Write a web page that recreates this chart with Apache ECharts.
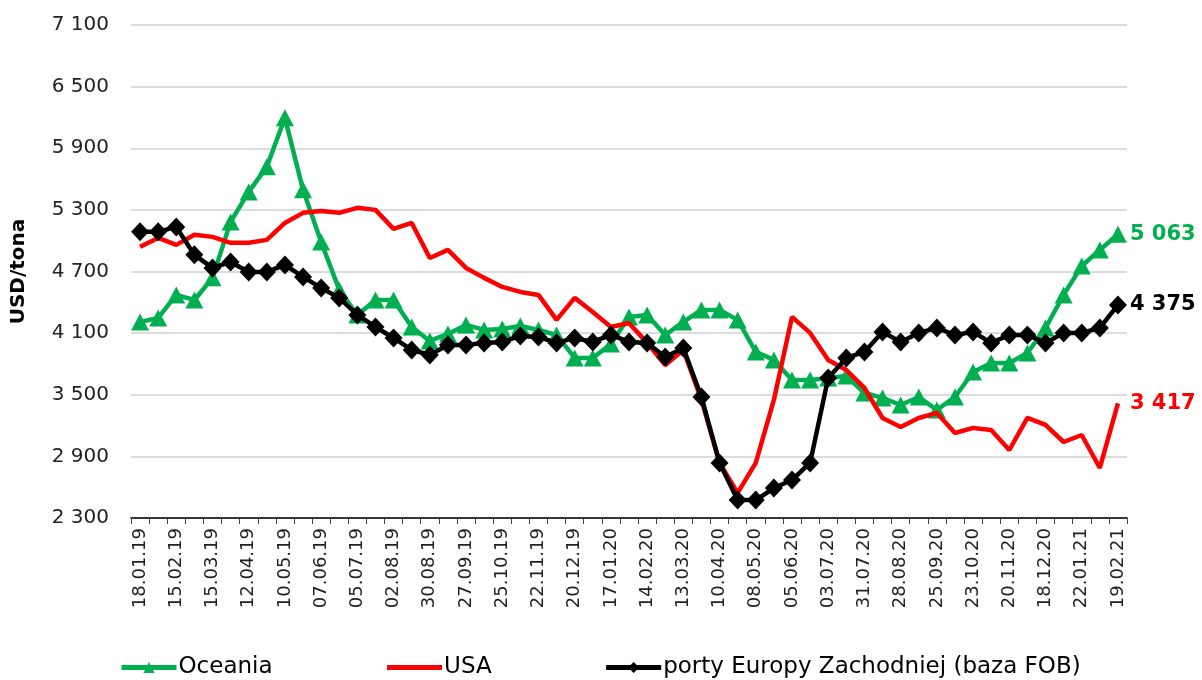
<!DOCTYPE html>
<html>
<head>
<meta charset="utf-8">
<script src="https://cdn.jsdelivr.net/npm/echarts@6/dist/echarts.min.js"></script>
<style>
  html, body { margin: 0; padding: 0; background: #fff; }
  #chart { width: 1202px; height: 680px; }
</style>
</head>
<body>
<div id="chart"></div>
<script>
// daty notowań (co 2 tygodnie)
var categories = [
  "18.01.19","01.02.19","15.02.19","01.03.19","15.03.19","29.03.19","12.04.19","26.04.19",
  "10.05.19","24.05.19","07.06.19","21.06.19","05.07.19","19.07.19","02.08.19","16.08.19",
  "30.08.19","13.09.19","27.09.19","11.10.19","25.10.19","08.11.19","22.11.19","06.12.19",
  "20.12.19","03.01.20","17.01.20","31.01.20","14.02.20","28.02.20","13.03.20","27.03.20",
  "10.04.20","24.04.20","08.05.20","22.05.20","05.06.20","19.06.20","03.07.20","17.07.20",
  "31.07.20","14.08.20","28.08.20","11.09.20","25.09.20","09.10.20","23.10.20","06.11.20",
  "20.11.20","04.12.20","18.12.20","08.01.21","22.01.21","05.02.21","19.02.21"
];

var oceania = [
  4209,4248,4472,4423,4638,5183,5475,5719,6196,5495,4988,4521,4277,
  4423,4423,4160,4024,4092,4180,4131,4141,4170,4131,4082,3858,3858,
  3995,4258,4277,4082,4209,4326,4326,4229,3917,3839,3644,3644,3664,
  3683,3517,3469,3400,3478,3352,3478,3722,3810,3810,3907,4150,4472,4754,4910,5063
];

var usa = [
  4940,5027,4959,5057,5037,4979,4979,5008,5173,5271,
  5290,5271,5320,5300,5115,5173,4832,4910,4735,4638,
  4550,4501,4472,4229,4443,4306,4160,4199,4005,3790,
  3936,3449,2836,2544,2836,3449,4258,4102,3839,3741,
  3566,3274,3186,3274,3323,3128,3177,3157,2962,3274,
  3206,3040,3108,2787,3417
];

var europa = [
  5086,5086,5134,4862,4735,4793,4696,4696,4764,4647,
  4540,4443,4277,4160,4053,3936,3888,3985,3985,4005,
  4014,4073,4063,4005,4053,4014,4082,4014,4005,3868,
  3956,3478,2836,2475,2475,2592,2670,2836,3664,3858,
  3917,4112,4014,4102,4151,4082,4112,4005,4082,4082,
  4005,4102,4102,4151,4375
];

var yTicks = [2300, 2900, 3500, 4100, 4700, 5300, 5900, 6500, 7100];

var FONT = "DejaVu Sans";

function fmt(v) {
  return String(Math.round(v)).replace(/\B(?=(\d{3})+(?!\d))/g, " ");
}

function endLabel(color) {
  return {
    show: true,
    distance: 12,
    formatter: function (p) { return fmt(p.value); },
    color: color,
    fontSize: 21,
    fontWeight: "bold",
    fontFamily: FONT
  };
}

var myChart = echarts.init(document.getElementById("chart"));

var option = {
  animation: false,
  textStyle: { fontFamily: FONT },
  grid: { left: 131, right: 75, top: 25, bottom: 162 },
  legend: {
    bottom: -4,
    left: 114,
    itemGap: 112,
    itemWidth: 55,
    itemHeight: 14,
    lineStyle: { width: 5 },
    textStyle: { fontSize: 23, color: "#000", fontFamily: FONT, padding: [0, 0, 0, -3] },
    data: [
      { name: "Oceania" },
      { name: "USA", itemStyle: { opacity: 0 } },
      { name: "porty Europy Zachodniej (baza FOB)" }
    ]
  },
  xAxis: {
    type: "category",
    data: categories,
    boundaryGap: true,
    axisLine: { show: true, lineStyle: { color: "#000", width: 1.5 } },
    axisTick: { show: true, interval: 0, length: 6, lineStyle: { color: "#444" } },
    axisLabel: {
      interval: 1,
      rotate: 90,
      fontSize: 18,
      color: "#222",
      fontFamily: FONT,
      margin: 10
    }
  },
  yAxis: {
    type: "value",
    min: 2300,
    max: 7100,
    interval: 600,
    name: "USD/tona",
    nameLocation: "middle",
    nameRotate: 90,
    nameGap: 102,
    nameTextStyle: { fontSize: 20, fontWeight: "bold", color: "#000", fontFamily: FONT },
    axisLine: { show: false },
    axisTick: { show: false, customValues: yTicks },
    splitLine: { show: true, customValues: yTicks, lineStyle: { color: "#d0d0d0", width: 1.5 } },
    axisLabel: {
      customValues: yTicks,
      fontSize: 20,
      color: "#222",
      fontFamily: FONT,
      margin: 22,
      formatter: function (v) { return fmt(v); }
    }
  },
  series: [
    {
      name: "Oceania",
      type: "line",
      data: oceania,
      color: "#00B050",
      symbol: "triangle",
      symbolSize: [18, 17],
      showAllSymbol: true,
      lineStyle: { width: 4.5, color: "#00B050" },
      itemStyle: { color: "#00B050" },
      endLabel: endLabel("#00B050"),
      z: 2
    },
    {
      name: "USA",
      type: "line",
      data: usa,
      color: "#FF0000",
      symbol: "none",
      lineStyle: { width: 4.5, color: "#FF0000" },
      endLabel: endLabel("#FF0000"),
      z: 3
    },
    {
      name: "porty Europy Zachodniej (baza FOB)",
      type: "line",
      data: europa,
      color: "#000000",
      symbol: "diamond",
      symbolSize: [18, 19],
      showAllSymbol: true,
      lineStyle: { width: 4.5, color: "#000000" },
      itemStyle: { color: "#000000" },
      endLabel: endLabel("#000000"),
      z: 4
    }
  ]
};

myChart.setOption(option);
window.addEventListener("resize", function () { myChart.resize(); });
</script>
</body>
</html>
